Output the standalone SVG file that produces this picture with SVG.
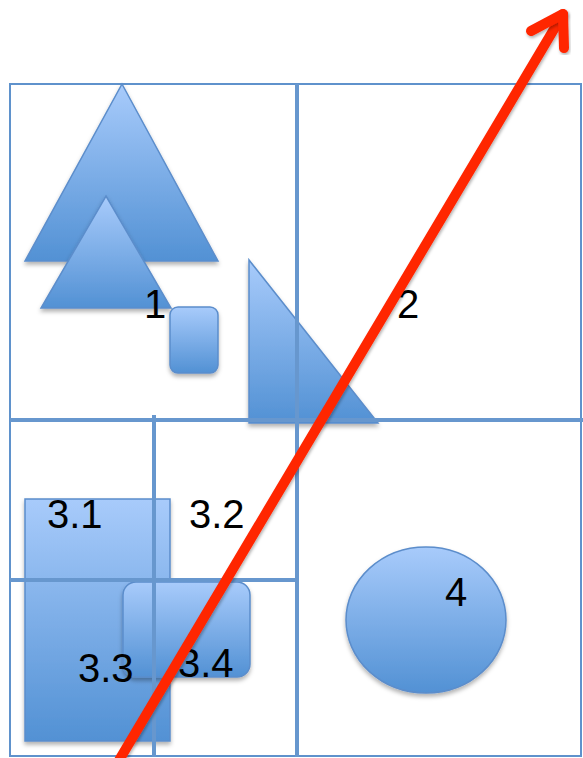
<svg xmlns="http://www.w3.org/2000/svg" width="583" height="758" viewBox="0 0 583 758">
<defs>
<linearGradient id="g" x1="0" y1="0" x2="0" y2="1">
<stop offset="0" stop-color="#a8cbfb"/>
<stop offset="1" stop-color="#5291d4"/>
</linearGradient>
<filter id="sh" x="-20%" y="-20%" width="140%" height="140%">
<feDropShadow dx="0" dy="3" stdDeviation="2" flood-color="#000" flood-opacity="0.3"/>
</filter>
<filter id="sh2" x="-20%" y="-20%" width="140%" height="140%">
<feDropShadow dx="1" dy="2" stdDeviation="1.5" flood-color="#000" flood-opacity="0.3"/>
</filter>
</defs>
<style>
.shape{fill:url(#g);stroke:#5b8dcb;stroke-width:1.5;filter:url(#sh)}
.grid{stroke:#6797ce;stroke-width:4;fill:none}
.frame{stroke:#5f92cc;stroke-width:2;fill:none}
.lbl{font-family:"Liberation Sans",Arial,sans-serif;font-size:40px;fill:#000}
.arrow{stroke:#ff2600;stroke-width:10;fill:none;stroke-linecap:round;stroke-linejoin:round;filter:url(#sh2)}
</style>
<rect width="583" height="758" fill="#fff"/>
<g id="frame"><rect class="frame" x="10" y="84" width="571" height="672"/></g>
<g id="node1">
<polygon class="shape" points="122,84 218,261 25,261"/>
<polygon class="shape" points="106,196 171,308 41,308"/>
<rect class="shape" x="170" y="307" width="48" height="66" rx="8"/>
</g>
<g id="node2">
<polygon class="shape" points="249,260 249,423 378,423"/>
</g>
<g id="node3">
<rect class="shape" x="25" y="499" width="145" height="242"/>
<rect class="shape" x="123" y="582" width="127" height="95" rx="13"/>
</g>
<g id="node4">
<ellipse class="shape" cx="426" cy="620" rx="80" ry="73"/>
</g>
<g id="grid">
<line class="grid" x1="10" y1="420" x2="583" y2="420"/>
<line class="grid" x1="297" y1="84" x2="297" y2="757"/>
<line class="grid" x1="154" y1="415" x2="154" y2="757"/>
<line class="grid" x1="10" y1="580" x2="297" y2="580"/>
</g>
<g id="labels">
<text class="lbl" x="144" y="318">1</text>
<text class="lbl" x="397" y="318">2</text>
<text class="lbl" x="47" y="528">3.1</text>
<text class="lbl" x="189" y="528">3.2</text>
<text class="lbl" x="78" y="682">3.3</text>
<text class="lbl" x="178" y="677">3.4</text>
<text class="lbl" x="445" y="606">4</text>
</g>
<g id="connectors">
<path class="arrow" d="M118,762 L563,14"/>
<path class="arrow" d="M531,31 L563,14 L564,48"/>
</g>
</svg>
